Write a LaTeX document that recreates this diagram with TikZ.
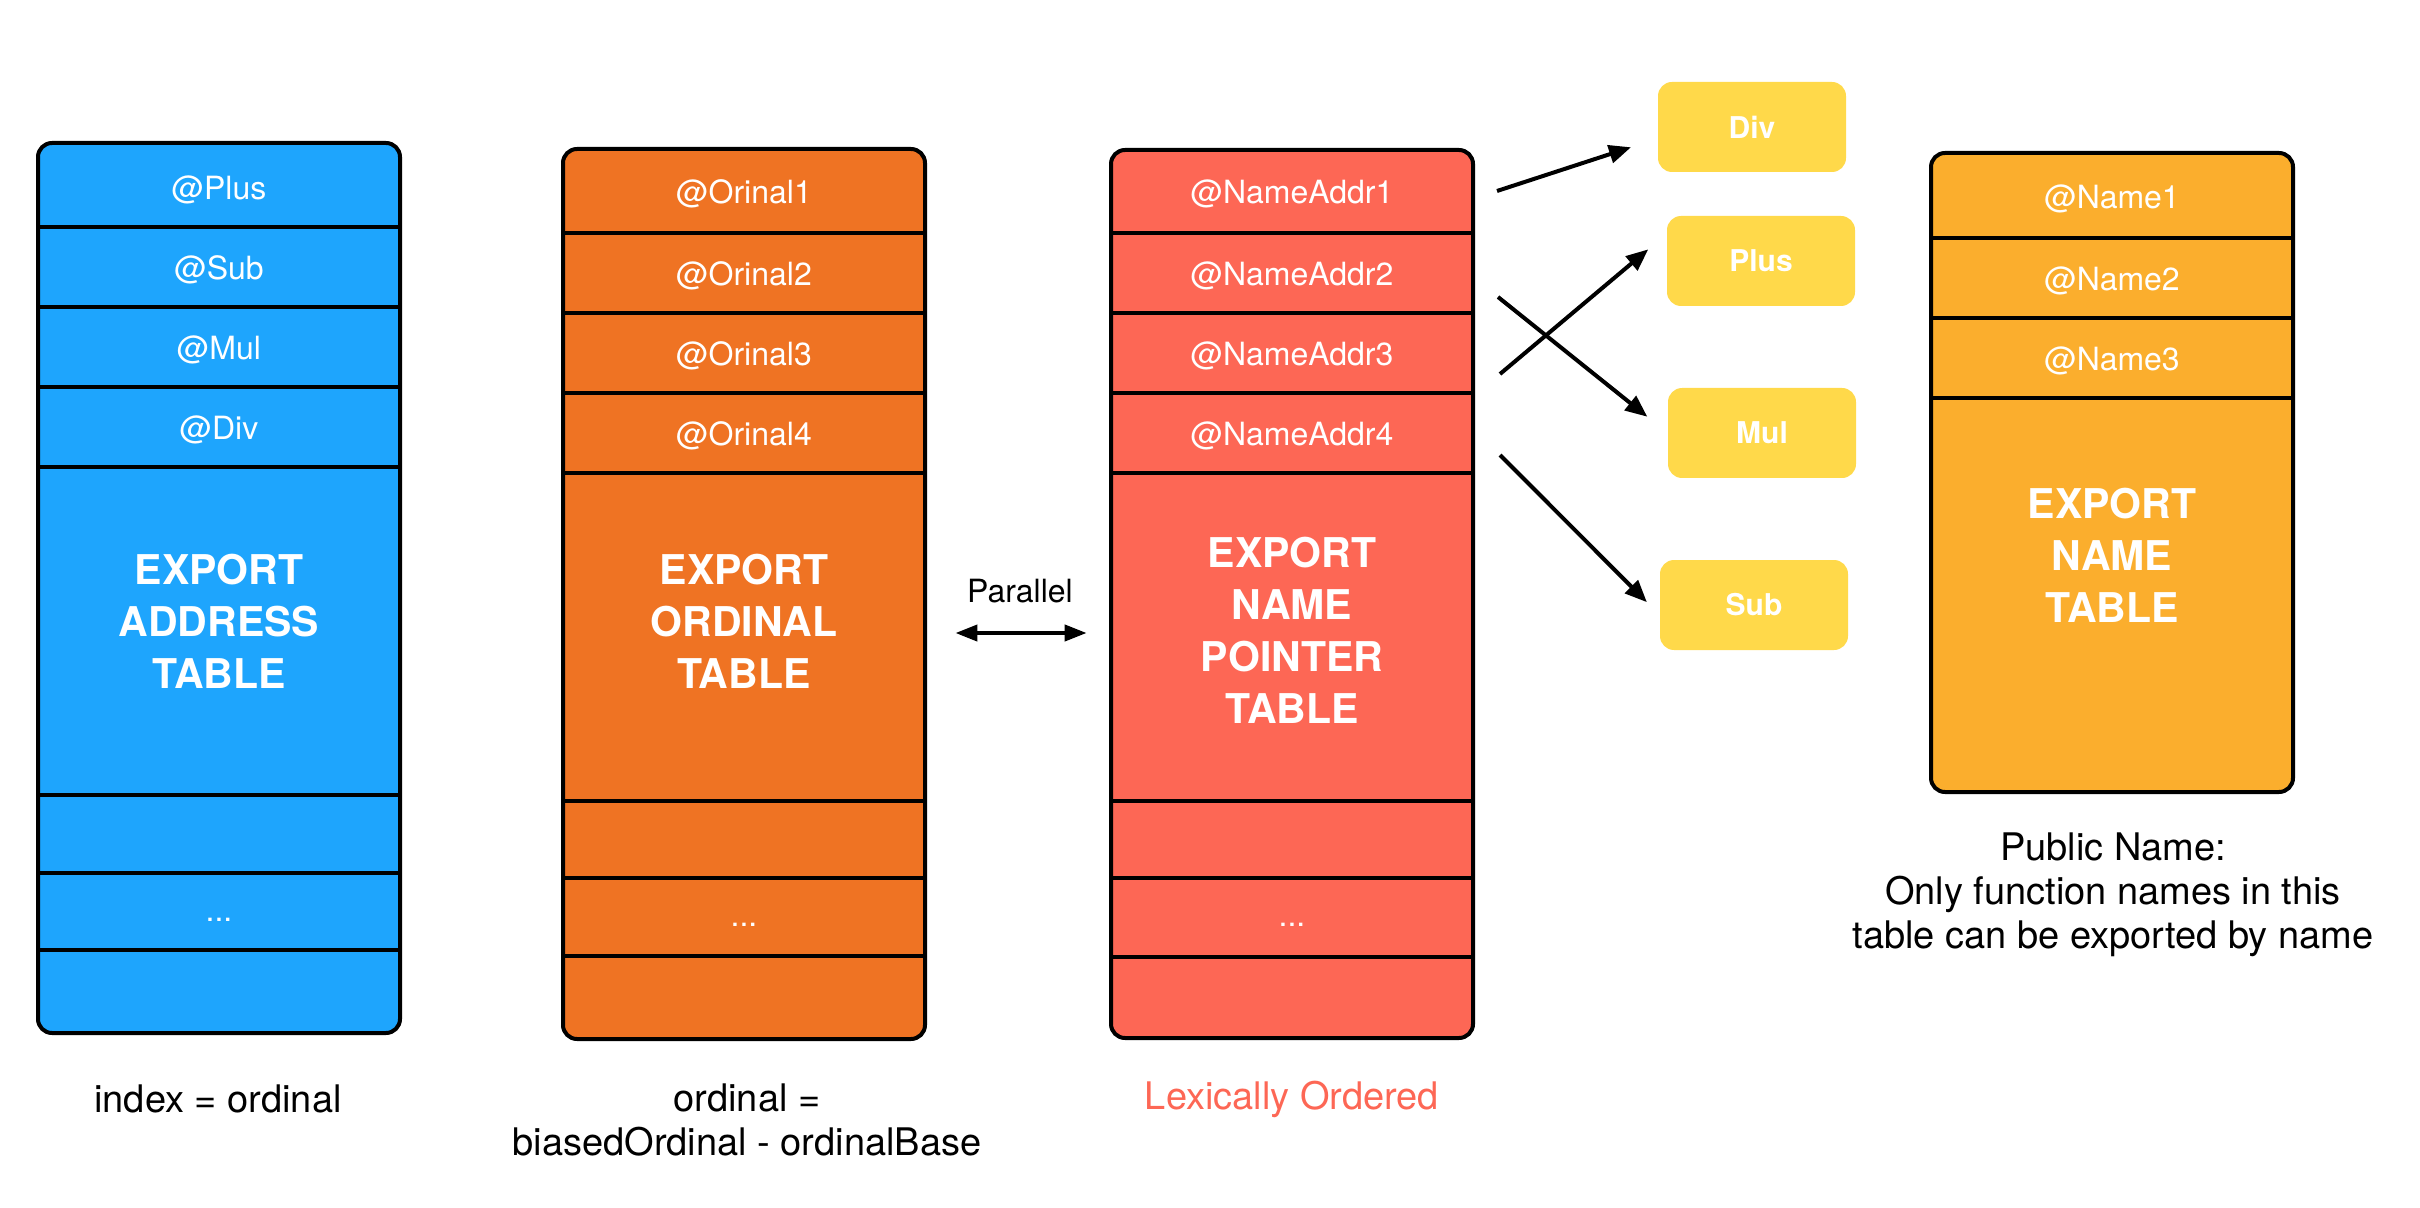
\documentclass[tikz,border=0pt]{standalone}
\usepackage{fontspec}
\setmainfont{TeX Gyre Heros}
\usetikzlibrary{arrows.meta}

\definecolor{addrblue}{HTML}{1EA5FD}
\definecolor{ordorange}{HTML}{EF7323}
\definecolor{ptrred}{HTML}{FD6755}
\definecolor{nameyellow}{HTML}{FBAE2D}
\definecolor{strgold}{HTML}{FFD94A}

\newcommand{\cellsize}{\fontsize{16}{19}\selectfont}
\newcommand{\titlesize}{\fontsize{20.5}{26}\selectfont\bfseries}
\newcommand{\capsize}{\fontsize{19}{22}\selectfont}

\begin{document}
\begin{tikzpicture}[x=0.5pt, y=-0.5pt,
    tablebox/.style={draw=black, line width=2pt, rounded corners=7pt},
    rowline/.style={draw=black, line width=2pt},
    cell/.style={text=white, font=\cellsize, inner sep=0pt},
    bigtitle/.style={text=white, font=\titlesize, align=center, inner sep=0pt,
      minimum width=181pt, minimum height=164pt},
    strbox/.style={fill=strgold, rounded corners=7pt, minimum width=94pt,
      minimum height=45pt, text=white, font=\fontsize{15}{18}\selectfont\bfseries},
    link/.style={-{Triangle[length=11pt,width=9pt]}, line width=2pt},
    both/.style={{Triangle[length=11pt,width=8pt]}-{Triangle[length=11pt,width=8pt]},
      line width=2pt},
    caption/.style={font=\capsize, align=center, inner sep=0pt}]

  \useasboundingbox (0,0) rectangle (2420,1208);

  % export address table
  \draw[tablebox, fill=addrblue] (38,143) rectangle (400,1033);
  \foreach \y in {227,307,387,467,795,873,950}
    \draw[rowline] (38,\y) -- (400,\y);
  \node[cell] (a1) at (219,190) {@Plus};
  \node[cell] (a2) at (219,270) {@Sub};
  \node[cell] (a3) at (219,350) {@Mul};
  \node[cell] (a4) at (219,430) {@Div};
  \node[bigtitle] (atitle) at (219,621) {EXPORT\\ADDRESS\\TABLE};
  \node[cell] (adots) at (219,920) {...};

  % export ordinal table
  \draw[tablebox, fill=ordorange] (563,149) rectangle (925,1039);
  \foreach \y in {233,313,393,473,801,878,956}
    \draw[rowline] (563,\y) -- (925,\y);
  \node[cell] (o1) at (744,194) {@Orinal1};
  \node[cell] (o2) at (744,276) {@Orinal2};
  \node[cell] (o3) at (744,356) {@Orinal3};
  \node[cell] (o4) at (744,436) {@Orinal4};
  \node[bigtitle] (otitle) at (744,621) {EXPORT\\ORDINAL\\TABLE};
  \node[cell] (odots) at (744,925) {...};

  % export name pointer table
  \draw[tablebox, fill=ptrred] (1111,150) rectangle (1473,1038);
  \foreach \y in {233,313,393,473,801,878,957}
    \draw[rowline] (1111,\y) -- (1473,\y);
  \node[cell] (p1) at (1292,194) {@NameAddr1};
  \node[cell] (p2) at (1292,276) {@NameAddr2};
  \node[cell] (p3) at (1292,356) {@NameAddr3};
  \node[cell] (p4) at (1292,436) {@NameAddr4};
  \node[bigtitle] (ptitle) at (1292,630) {EXPORT\\NAME\\POINTER\\TABLE};
  \node[cell] (pdots) at (1292,925) {...};

  % export name table
  \draw[tablebox, fill=nameyellow] (1931,153) rectangle (2293,792);
  \foreach \y in {238,318,398}
    \draw[rowline] (1931,\y) -- (2293,\y);
  \node[cell] (n1) at (2112,199) {@Name1};
  \node[cell] (n2) at (2112,281) {@Name2};
  \node[cell] (n3) at (2112,361) {@Name3};
  \node[text=white, font=\titlesize, align=center, inner sep=0pt] (ntitle)
    at (2112,555) {EXPORT\\NAME\\TABLE};

  % function names
  \node[strbox] (fdiv) at (1752,127) {Div};
  \node[strbox] (fplus) at (1761,261) {Plus};
  \node[strbox] (fmul) at (1762,433) {Mul};
  \node[strbox] (fsub) at (1754,605) {Sub};

  \coordinate (s1) at (1497,191);
  \coordinate (s2) at (1498,297);
  \coordinate (s3) at (1500,374);
  \coordinate (s4) at (1500,455);
  \draw[link, shorten >=14pt] (s1) -- (fdiv.187);
  \draw[link, shorten >=13pt] (s2) -- (fmul.west);
  \draw[link, shorten >=12pt] (s3) -- (fplus.164);
  \draw[link, shorten >=9pt] (s4) -- (fsub.186);

  % parallel
  \node[cell, text=black] (par) at (1020,591) {Parallel};
  \draw[both, shorten <=15pt, shorten >=12pt]
    ([yshift=-6pt]otitle.east) -- ([yshift=-6pt]otitle.east -| ptitle.west);

  % captions
  \node[caption] (idxcap) at (218,1099) {index = ordinal};
  \node[caption] (ordcap) at (747,1120) {ordinal =\\biasedOrdinal - ordinalBase};
  \node[caption, text=ptrred] (lexcap) at (1292,1099) {Lexically Ordered};
  \node[caption] (pubcap) at (2113,895) {Public Name:\\Only function names in this\\table can be exported by name};
\end{tikzpicture}
\end{document}
